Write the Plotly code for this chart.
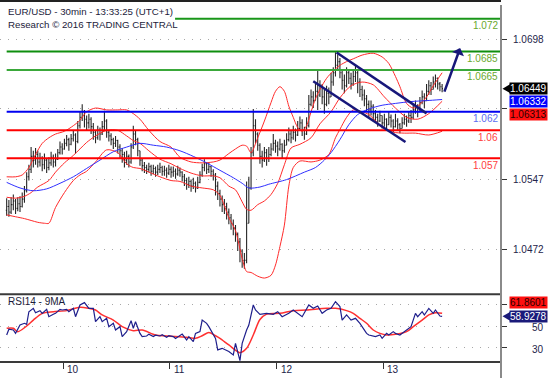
import plotly.graph_objects as go

# ---------------- DATA ----------------
BASE = 1.04      # bar / indicator values below are pips above 1.0400
PIP = 0.0001

first_open = 114
closes = [118,112,120,124,116,121,118,126,
          135,150,158,172,168,
          174,166,170,163,168,160,165,171,166,169,
          176,182,180,186,190,185,191,195,188,
          205,214,220,212,208,
          212,204,198,192,200,196,204,210,198,
          194,190,186,189,182,178,174,168,172,166,
          182,196,190,178,
          168,162,160,
          158,161,156,159,155,158,160,156,157,154,158,155,156,153,157,155,
          150,146,142,145,140,143,138,144,
          152,160,164,158,161,156,152,
          140,132,126,120,118,112,106,100,95,88,80,70,60,
          60,100,138,176,
          205,196,
          184,172,168,176,170,174,180,
          186,183,180,185,178,184,
          190,196,192,198,195,
          202,208,200,196,205,
          228,236,232,242,238,248,
          236,228,240,236,252,262,270,
          274,262,254,248,262,256,250,258,262,252,244,
          238,234,228,222,226,218,
          214,210,216,208,212,206,214,210,204,210,206,202,208,212,210,
          216,214,222,226,220,230,236,232,
          242,248,244,252,256,250,247,244.9]
highs = [127,125,128,131,126,128,129,133,
         140,155,163,182,178,
         181,178,176,172,175,170,171,177,174,175,
         180,188,186,191,195,192,196,200,197,
         210,220,228,222,216,
         218,214,208,200,205,203,210,221,212,
         200,197,192,194,190,185,181,177,178,174,
         186,205,200,192,
         178,170,166,
         163,165,163,163,161,163,165,162,162,160,163,161,161,159,162,160,
         156,153,149,150,147,149,145,150,
         156,164,169,166,165,162,158,
         154,145,136,130,126,122,116,110,104,98,90,84,72,
         68,145,150,182,
         223,212,
         198,186,178,182,180,182,186,
         196,190,188,191,186,190,
         197,203,200,205,202,
         210,215,212,204,214,
         238,244,242,250,264,254,
         250,244,248,246,262,268,284,
         282,278,266,260,268,266,262,266,270,264,256,
         248,244,238,232,232,228,
         222,218,221,216,218,213,220,217,212,218,213,208,214,218,216,
         220,222,228,232,228,236,243,240,
         250,254,252,258,260,257,252,250]
lows = [108,107,110,114,110,113,112,117,
        122,133,146,154,160,
        163,160,161,156,158,154,157,162,160,161,
        168,174,174,179,183,178,184,188,175,
        186,202,210,203,200,
        202,196,190,186,190,189,195,200,192,
        188,184,180,182,175,170,165,160,163,160,
        164,180,184,172,
        162,156,154,
        153,155,151,153,150,152,154,151,151,149,152,149,150,148,151,150,
        145,140,136,138,134,137,133,137,
        143,150,156,153,154,150,146,
        130,125,118,112,110,104,99,93,87,80,70,58,52,
        51,57,100,136,
        172,186,
        178,164,160,166,162,166,172,
        178,176,172,178,170,176,
        184,188,186,190,188,
        194,200,194,190,195,
        203,226,224,232,222,236,
        228,218,226,228,236,248,258,
        264,256,244,240,246,250,244,248,252,240,236,
        232,226,220,214,216,210,
        208,204,209,202,204,200,206,203,198,203,200,197,202,206,204,
        208,208,212,218,214,220,228,224,
        232,238,238,244,246,244,242,241]

# Bollinger bands (read at bar indices), pips above 1.0400
bb_upper_bar = [0,4,7,10,13,16,19,22,26,30,33,36,40,45,50,54,57,60,64,69,74,78,83,88,93,96,100,103,106,108,
                110,113,116,119,121,123,125,127,129,131,133,135,137,139,141,144,147,150,153,156,160,165,169,172,175,
                177,180,183,186,189,192,194,196]
bb_upper = [150,150,152,160,174,186,192,196,199,205,211,220,224,222,222,222,218,212,200,188,182,171,166,165,166,168,
            175,180,184,183,176,192,210,230,242,247,242,226,214,203,199,205,220,234,244,256,264,270,274,277,281,283,
            279,272,258,247,229,224,228,236,248,255,262]
bb_mid_bar = [0,4,8,11,14,19,22,26,30,33,36,40,45,50,54,57,60,64,69,74,78,83,88,93,96,100,103,106,108,110,
              113,116,119,122,125,128,132,137,141,146,150,155,160,165,170,175,180,185,190,196]
bb_mid = [128,127,129,133,139,146,155,165,173,180,187,194,200,200,194,189,186,178,169,164,159,154,151,151,149,140,
          136,123,115,114,120,124,131,143,163,181,185,192,207,220,235,248,252,249,236,224,214,212,218,231.3]
bb_lower_bar = [0,4,8,11,14,17,19,22,26,30,33,36,40,45,50,54,57,60,64,69,74,78,83,88,93,96,100,103,106,108,
                110,113,116,119,121,123,125,127,129,132,137,141,145,148,150,153,156,160,163,167,170,174,179,184,190,196]
bb_lower = [109,107,105,103,101,100,100,117,133,146,152,156,166,179,176,164,160,159,155,150,146,145,140,138,136,130,
            106,92,62,48,47,43,41,44,55,75,98,140,160,167,166,168,174,192,201,214,222,220,217,208,202,198,197,197,195,199]
# blue moving average
ma_bar = [0,6,12,18,24,30,36,42,48,54,60,66,72,78,84,90,96,102,106,109,114,118,126,134,139,143,146,150,154,158,
          163,169,175,182,189,196]
ma_val = [144,138,135,137,143,150,159,168,177,182,186,184,182,178,172,165,157,149,143,138,139,142,147,155,160,168,
          176,190,206,217,223,227,229,231,232,233.2]

# RSI(14) and its 9-period MA
rsi_bar = [0,1,3,4,6,8,9,10,12,13,15,16,18,19,21,22,24,25,27,28,30,31,33,35,37,39,40,42,43,45,46,48,49,51,52,54,
           56,57,58,60,61,63,64,66,67,69,70,72,73,75,76,78,79,81,82,84,85,87,88,90,91,94,95,97,100,102,103,105,106,
           108,109,111,112,114,117,120,122,124,127,129,131,133,136,138,140,142,144,146,148,150,151,153,155,157,159,
           160,162,163,166,168,169,171,172,174,175,177,178,180,182,184,185,187,188,190,192,193,195,196]
rsi_val = [41.7,47,46.3,43.2,50.9,52.5,51.5,63.2,66.3,62.3,64.2,61.7,65.4,58.6,60.8,61.7,65.4,64.8,65.4,63.2,66.3,
           58.6,69.4,71.6,66.3,66.3,54,58.6,54,57.1,49.4,52.5,46.3,49.4,40.2,44.8,54.9,47.9,54,43.2,40.2,40.8,42.5,
           40.2,41.5,40.8,42,39.6,41,40.2,38.5,41.7,42.6,37.1,40.2,35.6,43.2,44.8,55.5,52.5,49.4,38.6,27.9,29.4,26.4,
           23.3,34,18,34,46.3,50.9,69.4,64.8,60.8,61.7,60.8,63.2,58.6,61.7,64.8,61.7,58.6,69.4,66.3,68.5,61.7,64.8,
           66.3,72.5,67.9,55.5,60.2,55.5,57.1,52.5,49.4,43.2,41.7,40.2,41.7,38.6,43.2,41.7,44.8,43.2,41.7,43.2,46.3,
           49.4,61.7,58.6,63.2,60.2,66.3,61.7,64.8,59.2,58.93]
rsi_ma_bar = [0,3,5,9,12,16,21,27,33,37,40,43,48,52,57,61,67,72,81,85,88,91,94,96,100,105,108,111,114,117,123,129,
              135,144,148,153,156,159,162,165,168,171,175,180,183,187,190,193,196]
rsi_ma_val = [47.9,47.9,44.8,50,55.5,61.7,63.2,64.2,67.3,66.3,64.8,60.2,55.5,49.4,45.7,46.3,41.7,40.8,39.6,38.6,41,
              44,41,38.6,32.5,25.4,29.4,41.7,56,61,61.7,64.2,64.8,66.3,66.3,64.2,61.7,57.1,52.5,46.3,43.2,41.7,42.3,
              44.8,49.4,55.5,60.2,62.3,61.86]

# key levels
levels = [1.072, 1.0685, 1.0665, 1.062, 1.06, 1.057]
level_labels = ["1.072", "1.0685", "1.0665", "1.062", "1.06", "1.057"]
level_colors = ["#199619", "#0e8e0e", "#3aa83a", "#0000f0", "#ff0000", "#ff0000"]
level_text_colors = ["#6aa82e", "#6aa82e", "#6aa82e", "#5c6cf0", "#ff4040", "#ff4040"]
level_start_bar = [75.8, 0, 0, 0, 0, 0]

# falling channel and projection arrow (bar index, pips)
channel_top = ([148.5, 189.0], [283.8, 218.3])
channel_bottom = ([138.0, 179.5], [252.8, 187.5])
arrow_tail = (196.8, 240.0)
arrow_head = (204.1, 288.6)

price_ticks = [1.0472, 1.0547, 1.0623, 1.0698]
price_tick_labels = ["1.0472", "1.0547", "", "1.0698"]   # 1.0623 label sits behind the value boxes
rsi_ticks = [30, 50, 70]
rsi_tick_labels = ["30", "50", ""]                        # 70 label sits behind the value box
day_ticks = [25.5, 73.5, 121.5, 169.5]
day_labels = ["10", "11", "12", "13"]

last_close_txt, last_ma_txt, last_mid_txt = "1.06449", "1.06332", "1.06313"
last_rsi, last_rsi_ma = 58.9278, 61.8601

# ---------------- FIGURE ----------------
def px(v):
    return round(BASE + v * PIP, 6)

n = len(closes)
assert len(highs) == n and len(lows) == n
bars = list(range(n))
opens = [first_open] + closes[:-1]

FONT = "Liberation Sans, Arial, sans-serif"
NAVY = "#17177a"
W, L_MARGIN, R_MARGIN, T_MARGIN, B_MARGIN = 558, 0, 57, 1, 16
PLOT_W = W - L_MARGIN - R_MARGIN
SPLIT = 0.1875
X_RANGE = [-3.0, 222.5]
Y_RANGE = [1.042351, 1.073923]
R_RANGE = [16.76, 79.27]

def xp(pixel):
    return pixel / PLOT_W

fig = go.Figure()
fig.add_trace(go.Ohlc(
    x=bars, open=[px(v) for v in opens], high=[px(v) for v in highs],
    low=[px(v) for v in lows], close=[px(v) for v in closes],
    increasing=dict(line=dict(color="#262626", width=1.1)),
    decreasing=dict(line=dict(color="#262626", width=1.1)),
    tickwidth=0.4, xaxis="x", yaxis="y", hoverinfo="skip", showlegend=False))

for xs, ys in [(bb_upper_bar, bb_upper), (bb_mid_bar, bb_mid), (bb_lower_bar, bb_lower)]:
    fig.add_trace(go.Scatter(x=xs, y=[px(v) for v in ys], mode="lines",
                             line=dict(color="#ff2a2a", width=1, shape="spline", smoothing=0.8),
                             xaxis="x", yaxis="y", hoverinfo="skip", showlegend=False))
fig.add_trace(go.Scatter(x=ma_bar, y=[px(v) for v in ma_val], mode="lines",
                         line=dict(color="#3030ff", width=1, shape="spline", smoothing=0.8),
                         xaxis="x", yaxis="y", hoverinfo="skip", showlegend=False))

fig.add_trace(go.Scatter(x=rsi_ma_bar, y=rsi_ma_val, mode="lines",
                         line=dict(color="#ff3030", width=1.5, shape="spline", smoothing=0.8),
                         xaxis="x", yaxis="y2", hoverinfo="skip", showlegend=False))
fig.add_trace(go.Scatter(x=rsi_bar, y=rsi_val, mode="lines",
                         line=dict(color="#1f1f8c", width=1.2),
                         xaxis="x", yaxis="y2", hoverinfo="skip", showlegend=False))

shapes = []
for lv, col, x0 in zip(levels, level_colors, level_start_bar):
    shapes.append(dict(type="line", xref="x", yref="y", x0=x0, x1=X_RANGE[1], y0=lv, y1=lv,
                       line=dict(color=col, width=2), layer="above"))
for xs, ys in [channel_top, channel_bottom]:
    shapes.append(dict(type="line", xref="x", yref="y", x0=xs[0], x1=xs[1], y0=px(ys[0]), y1=px(ys[1]),
                       line=dict(color=NAVY, width=2.5), layer="above"))
# frame lines
shapes.append(dict(type="line", xref="paper", yref="paper", x0=0, x1=1, y0=1, y1=1,
                   line=dict(color="#222222", width=2)))
shapes.append(dict(type="line", xref="paper", yref="paper", x0=0, x1=1, y0=SPLIT, y1=SPLIT,
                   line=dict(color="#3a3a3a", width=2)))
shapes.append(dict(type="line", xref="paper", yref="paper", x0=0, x1=1, y0=0, y1=0,
                   line=dict(color="#3a3a3a", width=2)))
shapes.append(dict(type="line", xref="paper", yref="paper", x0=1, x1=1, y0=-0.045, y1=0.989,
                   line=dict(color="#8a8a8a", width=2)))
# pointer triangles of the value boxes
def tri(yv, half, yref, color):
    return dict(type="path", xref="paper", yref=yref,
                path=f"M {xp(502.5)},{yv} L {xp(511)},{yv + half} L {xp(511)},{yv - half} Z",
                fillcolor=color, line=dict(width=0), layer="above")
shapes.append(tri(float(last_close_txt), 0.00054, "y", "#000000"))
shapes.append(tri(last_rsi, 4.6, "y2", "#1a1a7a"))

ann = []
ann.append(dict(text="EUR/USD - 30min - 13:33:25 (UTC+1)", xref="paper", yref="paper", x=xp(6), y=0.971,
                xanchor="left", yanchor="middle", showarrow=False, font=dict(size=9.7, color="#1b1b3a")))
ann.append(dict(text="Research © 2016 TRADING CENTRAL", xref="paper", yref="paper", x=xp(6), y=0.936,
                xanchor="left", yanchor="middle", showarrow=False, font=dict(size=9.7, color="#1b1b3a")))
ann.append(dict(text="RSI14 - 9MA", xref="paper", yref="paper", x=xp(6), y=0.1676,
                xanchor="left", yanchor="middle", showarrow=False, font=dict(size=10, color="#1b1b3a")))
for lv, lab, tc in zip(levels, level_labels, level_text_colors):
    ann.append(dict(text=lab, xref="paper", yref="y", x=xp(500), y=lv, yshift=-7,
                    xanchor="right", yanchor="middle", showarrow=False, font=dict(size=10, color=tc)))
for tv, tl in zip(price_ticks, price_tick_labels):
    if tl:
        ann.append(dict(text=tl, xref="paper", yref="y", x=xp(546), y=tv, xanchor="right", yanchor="middle",
                        showarrow=False, font=dict(size=10, color="#23234a")))
for tv, tl in zip(rsi_ticks, rsi_tick_labels):
    if tl:
        ann.append(dict(text=tl, xref="paper", yref="y2", x=xp(546), y=tv, yshift=-1.5, xanchor="right",
                        yanchor="middle", showarrow=False, font=dict(size=10, color="#23234a")))
for tv, tl in zip(day_ticks, day_labels):
    ann.append(dict(text=tl, xref="x", yref="paper", x=tv, xshift=2, y=-0.0194, xanchor="left",
                    yanchor="middle", showarrow=False, font=dict(size=10, color="#23234a")))
# value boxes
def box(txt, yv, yref, bg, fg, shift):
    return dict(text=txt, xref="paper", yref=yref, x=xp(548), y=yv, yshift=shift, xanchor="right",
                yanchor="middle", showarrow=False, bgcolor=bg, borderpad=0,
                font=dict(size=10, color=fg))
ann.append(box(last_close_txt, float(last_close_txt), "y", "#000000", "#ffffff", 0))
ann.append(box(last_ma_txt, float(last_ma_txt), "y", "#0000ff", "#ffffff", -2))
ann.append(box(last_mid_txt, float(last_mid_txt), "y", "#ff1010", "#2a0000", -13))
ann.append(box(f"{last_rsi_ma:.4f}", last_rsi_ma, "y2", "#ff1010", "#2a0000", 11))
ann.append(box(f"{last_rsi:.4f}", last_rsi, "y2", "#1a1a7a", "#ffffff", 0))
# projection arrow
ann.append(dict(text="", x=arrow_head[0], y=px(arrow_head[1]), ax=arrow_tail[0], ay=px(arrow_tail[1]),
                xref="x", yref="y", axref="x", ayref="y", showarrow=True, arrowhead=1, arrowsize=0.85,
                arrowwidth=2.5, arrowcolor=NAVY, standoff=0))

grid = dict(showgrid=True, gridcolor="#a8a8a8", gridwidth=1, griddash="1px,7px", zeroline=False,
            showticklabels=False, ticks="outside", ticklen=5, tickcolor="#333333", tickwidth=1,
            side="right", anchor="x", showline=False)

fig.update_layout(
    width=W, height=378, margin=dict(l=L_MARGIN, r=R_MARGIN, t=T_MARGIN, b=B_MARGIN, pad=0),
    paper_bgcolor="white", plot_bgcolor="white", showlegend=False, hovermode=False,
    font=dict(family=FONT, size=10, color="#23234a"),
    xaxis=dict(range=X_RANGE, anchor="y2", tickvals=day_ticks, showticklabels=False, ticks="outside",
               ticklen=6, tickcolor="#333333", tickwidth=1, showgrid=False, zeroline=False, showline=False,
               rangeslider=dict(visible=False)),
    yaxis=dict(domain=[SPLIT, 1], range=Y_RANGE, tickvals=price_ticks, **grid),
    yaxis2=dict(domain=[0, SPLIT], range=R_RANGE, tickvals=rsi_ticks, **grid),
    shapes=shapes, annotations=ann)

# remove the browser's default 8px body margin so the figure sits at the page origin
fig.write_html("out.html", config={"displayModeBar": False},
               post_script="document.body.style.margin='0';")
